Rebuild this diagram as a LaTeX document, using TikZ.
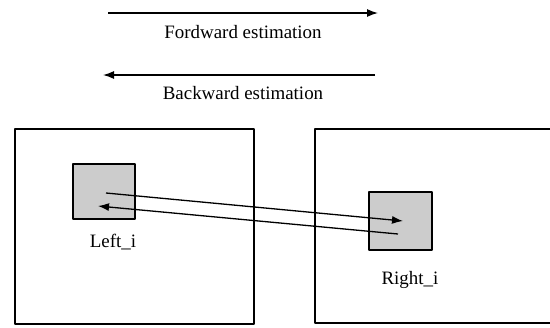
\documentclass[tikz,border=0pt]{standalone}
\usepackage{fontspec}
\setmainfont{Liberation Serif}
\usetikzlibrary{arrows.meta}
\begin{document}
\begin{tikzpicture}[>={Latex[length=11bp,width=8bp]},line join=bevel,x=1bp,y=-1bp,
  frame/.style={draw,line width=1.4bp,inner sep=0pt},
  patch/.style={draw,line width=1.4bp,fill=black!20,inner sep=0pt},
  caption/.style={font=\fontsize{19}{23}\selectfont,inner sep=0pt},
  flow/.style={black,line width=1.3bp,->}]
\useasboundingbox (0,0) rectangle (550,327);
%%
\node (leftframe) at (134.5,226.5) [frame,minimum width=239bp,minimum height=195bp] {};
  \node (rightframe) at (433,226) [frame,minimum width=236bp,minimum height=194bp] {};
  \node (leftpatch) at (104,191.5) [patch,minimum width=62bp,minimum height=55bp] {};
  \node (rightpatch) at (400.5,221) [patch,minimum width=63bp,minimum height=58bp] {};
  \node (leftlabel) at (113,242) [caption] {Left\_i};
  \node (rightlabel) at (410,280) [caption] {Right\_i};
  \node (fwdlabel) at (243,32) [caption] {Fordward estimation};
  \node (bwdlabel) at (243,93) [caption] {Backward estimation};
  \coordinate (fwdstart) at (108,13);
  \coordinate (fwdend) at (378,13);
  \coordinate (bwdstart) at (375,75);
  \coordinate (bwdend) at (103,75);
  \coordinate (leftout) at (106,193);
  \coordinate (rightin) at (403,221);
  \coordinate (rightout) at (398,234);
  \coordinate (leftin) at (98,206);
  \draw [flow] (fwdstart) -- (fwdend);
  \draw [flow] (bwdstart) -- (bwdend);
  \draw [flow] (leftout) -- (rightin);
  \draw [flow] (rightout) -- (leftin);
%
\end{tikzpicture}
\end{document}
